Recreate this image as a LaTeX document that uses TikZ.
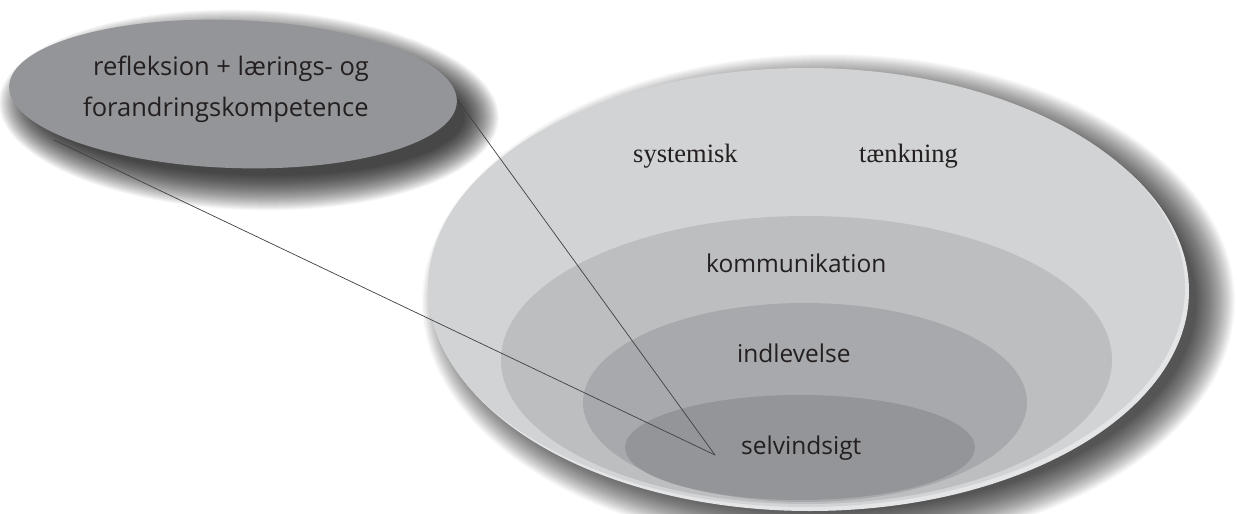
\documentclass[tikz,border=0pt]{standalone}
\usepackage{fontspec}
\newfontfamily\sansf{Open Sans}
\newfontfamily\seriff{Liberation Serif}
\definecolor{outerc}{HTML}{D1D3D4}
\definecolor{lipc}{HTML}{E4E5E6}
\definecolor{kommc}{HTML}{BCBEC0}
\definecolor{indlc}{HTML}{A7A9AC}
\definecolor{selvc}{HTML}{939598}
\definecolor{leftc}{HTML}{939598}
\definecolor{txtc}{HTML}{231F20}
\definecolor{linec}{HTML}{404041}
\begin{document}
\begin{tikzpicture}[x=1pt,y=-1pt,
  sanslabel/.style={font=\sansf\fontsize{24.5}{29}\selectfont, text=txtc, inner sep=0pt, anchor=base west},
  leftlabel/.style={sanslabel, font=\sansf\fontsize{25.5}{30}\selectfont},
  seriflabel/.style={font=\seriff\fontsize{26.5}{31}\selectfont, text=txtc, inner sep=0pt, anchor=base west},
  connector/.style={draw=linec, line width=0.7pt},
  softshadow/.style={fill=black, opacity=0.025}]
\useasboundingbox (0,0) rectangle (1237,514);
\fill[white] (0,0) rectangle (1237,514);
% shadow of the bowl
\foreach \i [evaluate=\i as \rx using 406.5-\i, evaluate=\i as \ry using 247.5-\i] in {0,...,39}{
  \fill[softshadow] (828.5,301.5) ellipse [x radius=\rx pt, y radius=\ry pt];
}
% lip and bowl
\fill[lipc] (810,291) ellipse [x radius=379pt, y radius=220pt];
\fill[outerc] (806.5,287.5) ellipse [x radius=378.5pt, y radius=219.5pt];
\begin{scope}
  \clip (806.5,287.5) ellipse [x radius=378pt, y radius=219pt];
  \fill[kommc] (806.5,360) ellipse [x radius=305.5pt, y radius=144pt];
  \fill[indlc] (805,402.5) ellipse [x radius=222pt, y radius=99.5pt];
  \fill[selvc] (800,447.5) ellipse [x radius=175pt, y radius=52.5pt];
\end{scope}
% shadow of the left ellipse
\foreach \i [evaluate=\i as \rx using 250-\i, evaluate=\i as \ry using 100-\i] in {0,...,35}{
  \fill[softshadow, opacity=0.03, rotate around={-2:(249,110)}] (249,110) ellipse [x radius=\rx pt, y radius=\ry pt];
}
\fill[leftc, rotate around={-2:(233,94)}] (233,94) ellipse [x radius=224pt, y radius=74pt];
% connectors
\coordinate (reflR) at (457,99);
\coordinate (reflBL) at (54,140);
\coordinate (focus) at (715,455);
\draw[connector] (reflR) -- (focus);
\draw[connector] (reflBL) -- (focus);
% labels
\node[leftlabel] (refl1) at (93,75) {refleksion + lærings- og};
\node[leftlabel] (refl2) at (83,116) {forandringskompetence};
\node[seriflabel] (sys) at (633,162) {systemisk};
\node[seriflabel] (taenk) at (859,162) {tænkning};
\node[sanslabel] (komm) at (706,272) {kommunikation};
\node[sanslabel] (indl) at (737,362) {indlevelse};
\node[sanslabel] (selv) at (741,454) {selvindsigt};
\end{tikzpicture}
\end{document}
